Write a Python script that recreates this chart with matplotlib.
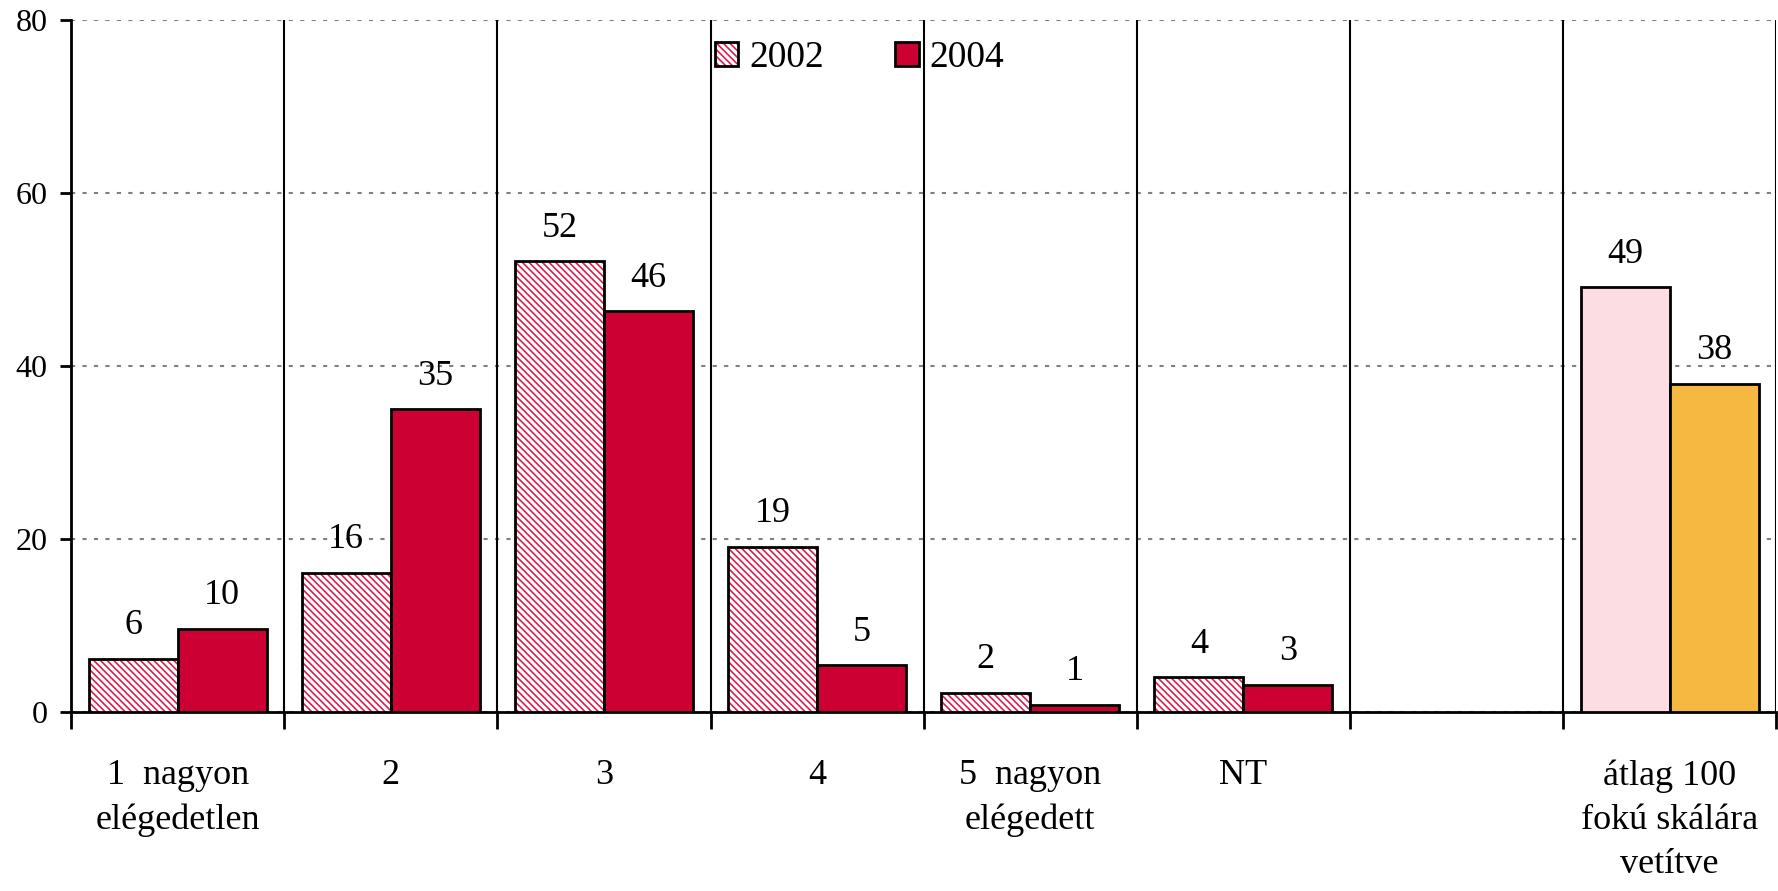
import matplotlib.pyplot as plt
from matplotlib.patches import Patch
from matplotlib.legend_handler import HandlerTuple

categories = ['1  nagyon\nelégedetlen', '2', '3', '4', '5  nagyon\nelégedett', 'NT', '',
              'átlag 100\nfokú skálára\nvetítve']
vals_2002 = [6.1, 16.1, 52.1, 19.1, 2.2, 4.0, None, 49.1]
vals_2004 = [9.6, 35.0, 46.3, 5.4, 0.8, 3.1, None, 37.9]
labels_2002 = ['6', '16', '52', '19', '2', '4', '', '49']
labels_2004 = ['10', '35', '46', '5', '1', '3', '', '38']

red = '#CC0033'
hatch_red = '#D8204E'
plt.rcParams['font.family'] = ['Liberation Serif', 'DejaVu Serif']
plt.rcParams['hatch.color'] = hatch_red
plt.rcParams['hatch.linewidth'] = 1.2
fs = 26

fig = plt.figure(figsize=(17.78, 8.91), dpi=100)
ax = fig.add_axes([0.040, 0.201, 0.959, 0.7765])

w = 0.4175
x = list(range(len(categories)))
for i in x:
    if vals_2002[i] is None:
        continue
    x1 = i - w / 2
    x2 = i + w / 2
    if i == len(categories) - 1:
        ax.bar(x1, vals_2002[i], w, color='#FDDDE4', edgecolor='black', linewidth=2, zorder=3)
        ax.bar(x2, vals_2004[i], w, color='#F5B942', edgecolor='black', linewidth=2, zorder=3)
    else:
        ax.bar(x1, vals_2002[i], w, facecolor='white', hatch='\\\\\\\\\\', zorder=3)
        ax.bar(x1, vals_2002[i], w, fill=False, edgecolor='black', linewidth=2, zorder=4)
        ax.bar(x2, vals_2004[i], w, color=red, edgecolor='black', linewidth=2, zorder=3)
    ax.annotate(labels_2002[i], (x1, vals_2002[i]), xytext=(0, 12), textcoords='offset points',
                ha='center', va='bottom', fontsize=fs)
    ax.annotate(labels_2004[i], (x2, vals_2004[i]), xytext=(0, 12), textcoords='offset points',
                ha='center', va='bottom', fontsize=fs)

ax.set_xlim(-0.5, len(categories) - 0.5)
ax.set_ylim(0, 80)
ax.set_yticks([0, 20, 40, 60, 80])
ax.tick_params(axis='y', labelsize=23, length=8, width=2, direction='out', pad=9)
ax.yaxis.grid(True, color='#808080', linestyle=(0, (2, 3.5)), linewidth=1.5)

# category separators
bounds = [i - 0.5 for i in range(len(categories) + 1)]
for b in bounds:
    ax.axvline(b, color='black', linewidth=1.5, zorder=2)
ax.set_xticks(x)
ax.set_xticklabels(categories, fontsize=fs, linespacing=1.45)
ax.tick_params(axis='x', length=0, pad=34)
ax.set_xticks(bounds, minor=True)
ax.tick_params(axis='x', which='minor', length=12, width=2, direction='out')

for s in ['top', 'right']:
    ax.spines[s].set_visible(False)
ax.spines['left'].set_linewidth(2)
ax.spines['bottom'].set_linewidth(2)

h1 = (Patch(facecolor='white', hatch='\\\\\\\\\\'), Patch(fill=False, edgecolor='black', linewidth=2))
h2 = Patch(facecolor=red, edgecolor='black', linewidth=2)
ax.legend([h1, h2], ['2002', '2004'], handler_map={tuple: HandlerTuple(ndivide=1)},
          loc='center', bbox_to_anchor=(0.4625, 0.945), ncol=2, frameon=False, fontsize=27,
          handlelength=0.62, handleheight=0.62, handletextpad=0.3, columnspacing=1.9)

fig.savefig('out.png', dpi=100)
